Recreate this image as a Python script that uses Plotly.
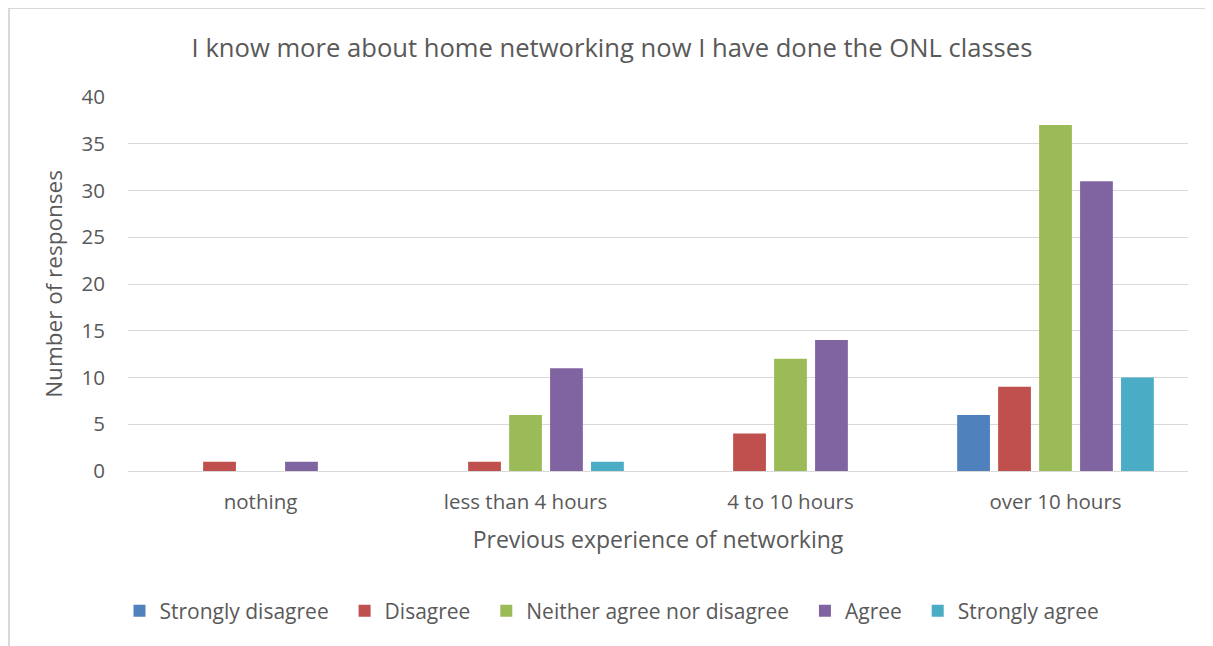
import plotly.graph_objects as go

categories = ["nothing", "less than 4 hours", "4 to 10 hours", "over 10 hours"]
series_names = ["Strongly disagree", "Disagree", "Neither agree nor disagree", "Agree", "Strongly agree"]
strongly_disagree = [0, 0, 0, 6]
disagree = [1, 1, 4, 9]
neither = [0, 6, 12, 37]
agree = [1, 11, 14, 31]
strongly_agree = [0, 1, 0, 10]
colors = ["#4F81BD", "#C0504D", "#9BBB59", "#8064A2", "#4BACC6"]

title_text = "I know more about home networking now I have done the ONL classes"
x_title = "Previous experience of networking"
y_title = "Number of responses"

OFF = 8  # page body margin
W, H = 1213 - OFF, 646 - OFF
L, R, T, B = 128 - OFF, 25, 97 - OFF, 175

fig = go.Figure()
for i, (name, vals, col) in enumerate(zip(series_names,
                           [strongly_disagree, disagree, neither, agree, strongly_agree],
                           colors)):
    pad = "\u00a0\u00a0" if i < len(series_names) - 1 else ""
    fig.add_trace(go.Bar(x=categories, y=vals, name=name + pad,
                         marker=dict(color=col, line=dict(width=0))))

font = "Open Sans, Noto Sans, sans-serif"
txt = "#595959"
pw = W - L - R
ph = H - T - B

fig.update_layout(
    width=W, height=H,
    margin=dict(l=L, r=R, t=T, b=B, autoexpand=False),
    paper_bgcolor="white", plot_bgcolor="white",
    font=dict(family=font, color=txt, size=18),
    barmode="group", bargap=0.227, bargroupgap=0.2,
    title=dict(text=title_text, x=(612 - OFF) / W, xanchor="center",
               y=1 - (48 - OFF) / H, yanchor="middle",
               font=dict(size=25.6, color=txt, family=font)),
    xaxis=dict(showgrid=False, showline=True, linecolor="#D9D9D9", linewidth=1,
               ticks="", tickfont=dict(size=20.5, color=txt), ticklabelstandoff=12,
               title=dict(text=x_title, font=dict(size=23, color=txt), standoff=18)),
    yaxis=dict(range=[0, 40], dtick=5, showgrid=True, gridcolor="#D9D9D9", gridwidth=1,
               zeroline=False, showline=False, ticks="", ticklabelstandoff=22,
               tickfont=dict(size=20.5, color=txt),
               title=dict(text=y_title, font=dict(size=22.5, color=txt), standoff=12)),
    legend=dict(orientation="h", x=(612 - 128) / pw, xanchor="center",
                y=(471 - 611) / ph, yanchor="middle",
                font=dict(size=21, color=txt), itemwidth=30, traceorder="normal"),
    showlegend=True,
)

fig.add_shape(type="rect", xref="paper", yref="paper",
              x0=(9 - 128) / pw, x1=(1213 + 20 - 128) / pw,
              y0=(471 - 680) / ph, y1=(471 - 8) / ph,
              line=dict(color="#D9D9D9", width=2), fillcolor="rgba(0,0,0,0)", layer="below")

fig.write_html("out.html")
